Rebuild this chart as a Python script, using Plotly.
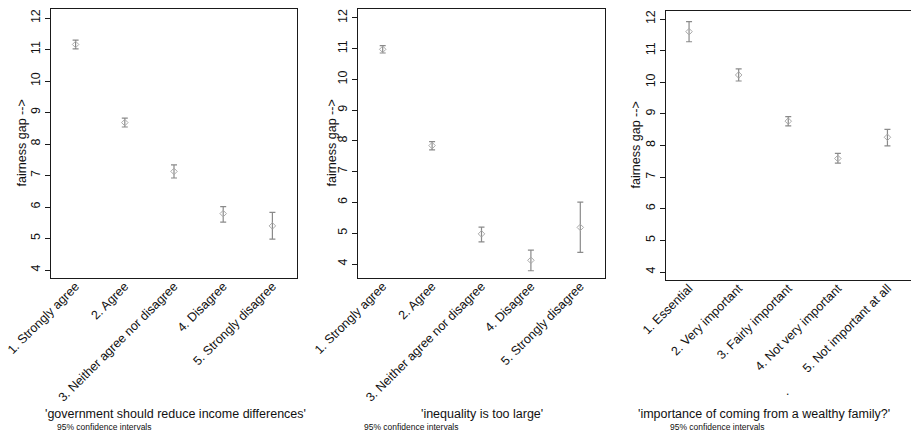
import plotly.graph_objects as go

W, H = 911, 434

# ---- data ----
cats_gov = ["1. Strongly agree", "2. Agree", "3. Neither agree nor disagree",
            "4. Disagree", "5. Strongly disagree"]
mean_gov = [11.16, 8.68, 7.13, 5.79, 5.40]
lo_gov = [11.02, 8.54, 6.92, 5.52, 4.98]
hi_gov = [11.30, 8.82, 7.34, 6.01, 5.83]

cats_ineq = ["1. Strongly agree", "2. Agree", "3. Neither agree nor disagree",
             "4. Disagree", "5. Strongly disagree"]
mean_ineq = [10.98, 7.85, 4.98, 4.12, 5.19]
lo_ineq = [10.86, 7.71, 4.72, 3.78, 4.38]
hi_ineq = [11.10, 7.98, 5.20, 4.45, 6.01]

cats_fam = ["1. Essential", "2. Very important", "3. Fairly important",
            "4. Not very important", "5. Not important at all"]
mean_fam = [11.60, 10.23, 8.77, 7.59, 8.26]
lo_fam = [11.28, 10.04, 8.62, 7.44, 7.99]
hi_fam = [11.92, 10.42, 8.91, 7.75, 8.51]

titles = ["'government should reduce income differences'",
          "'inequality is too large'",
          "'importance of coming from a wealthy family?'"]
note = "95% confidence intervals"
ytitle = "fairness gap -->"
yticks = [4, 5, 6, 7, 8, 9, 10, 11, 12]

FONT = "Liberation Sans, Arial, Helvetica, sans-serif"

panels = [
    dict(cats=cats_gov, m=mean_gov, lo=lo_gov, hi=hi_gov,
         px=(51, 297), py=(9, 278), xr=[0.5, 5.5], yr=[3.746, 12.286], mirror_y=True,
         ytx=22, ttx=175, ntx=55),
    dict(cats=cats_ineq, m=mean_ineq, lo=lo_ineq, hi=hi_ineq,
         px=(358, 605), py=(9, 278), xr=[0.5, 5.5], yr=[3.545, 12.29], mirror_y=True,
         ytx=332, ttx=482, ntx=362),
    dict(cats=cats_fam, m=mean_fam, lo=lo_fam, hi=hi_fam,
         px=(666, 911), py=(11, 280), xr=[0.535, 5.475], yr=[3.747, 12.253], mirror_y=False,
         ytx=635, ttx=764, ntx=668),
]

fig = go.Figure()
annotations = []
for i, p in enumerate(panels):
    k = "" if i == 0 else str(i + 1)
    xs = list(range(1, len(p["cats"]) + 1))
    fig.add_trace(go.Scatter(
        x=xs, y=p["m"], mode="markers",
        xaxis="x" + k, yaxis="y" + k,
        marker=dict(symbol="diamond-open", size=5, color="#a9a9a9",
                    line=dict(width=1, color="#a9a9a9")),
        error_y=dict(type="data", symmetric=False,
                     array=[h - m for h, m in zip(p["hi"], p["m"])],
                     arrayminus=[m - l for m, l in zip(p["m"], p["lo"])],
                     color="#8a8a8a", thickness=1.2, width=3),
        showlegend=False, hoverinfo="skip"))
    xd = [p["px"][0] / W, p["px"][1] / W]
    yd = [1 - p["py"][1] / H, 1 - p["py"][0] / H]
    fig.layout["xaxis" + k] = dict(
        domain=xd, range=p["xr"], anchor="y" + k, automargin=False,
        tickmode="array", tickvals=xs, ticktext=p["cats"], tickangle=-45,
        ticks="", showgrid=False, zeroline=False, ticklabelstandoff=-5,
        showline=True, linecolor="#1a1a1a", linewidth=1.4, mirror=True,
        tickfont=dict(family=FONT, size=12.5, color="#111"))
    fig.layout["yaxis" + k] = dict(
        domain=yd, range=p["yr"], anchor="x" + k, automargin=False,
        tickmode="array", tickvals=yticks, tickangle=-90,
        ticks="outside", ticklen=5, tickcolor="#1a1a1a", tickwidth=1,
        showgrid=False, zeroline=False,
        showline=True, linecolor="#1a1a1a", linewidth=1.4, mirror=p["mirror_y"],
        tickfont=dict(family=FONT, size=12.5, color="#111"))
    cy = (p["py"][0] + p["py"][1]) / 2
    annotations.append(dict(text=ytitle, x=p["ytx"] / W, y=1 - cy / H,
                            xref="paper", yref="paper", showarrow=False,
                            textangle=-90, xanchor="center", yanchor="middle",
                            font=dict(family=FONT, size=12.5, color="#111")))
    annotations.append(dict(text=titles[i], x=p["ttx"] / W, y=1 - 414 / H,
                            xref="paper", yref="paper", showarrow=False,
                            xanchor="center", yanchor="middle",
                            font=dict(family=FONT, size=12.5, color="#111")))
    annotations.append(dict(text=note, x=p["ntx"] / W, y=1 - 427 / H,
                            xref="paper", yref="paper", showarrow=False,
                            xanchor="left", yanchor="middle",
                            font=dict(family=FONT, size=8.5, color="#111")))

annotations.append(dict(text=".", x=787 / W, y=1 - 391 / H, xref="paper", yref="paper",
                        showarrow=False, xanchor="center", yanchor="middle",
                        font=dict(family=FONT, size=12, color="#111")))

fig.update_layout(width=W, height=H, margin=dict(l=0, r=0, t=0, b=0),
                  paper_bgcolor="white", plot_bgcolor="white",
                  annotations=annotations)

fig.write_html("out.html", config={"displayModeBar": False})
